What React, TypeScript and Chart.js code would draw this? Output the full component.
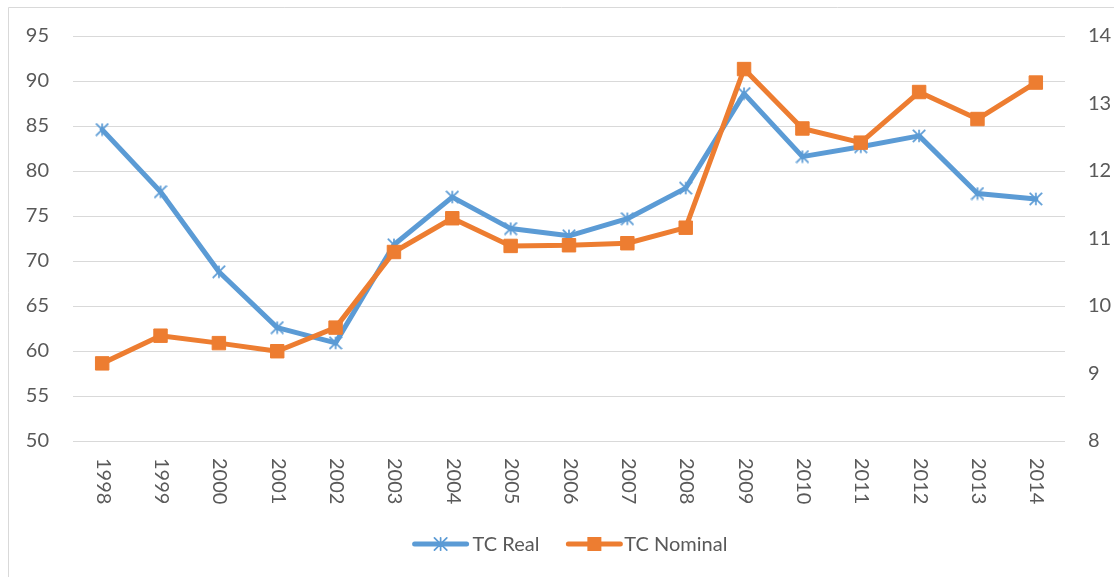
import React, { useEffect, useRef } from "react";
import { Chart, registerables } from "chart.js";

Chart.register(...registerables);

const years = ["1998", "1999", "2000", "2001", "2002", "2003", "2004", "2005", "2006", "2007", "2008", "2009", "2010", "2011", "2012", "2013", "2014"];
const tcReal = [84.6, 77.7, 68.8, 62.6, 60.9, 71.8, 77.1, 73.6, 72.8, 74.7, 78.1, 88.6, 81.6, 82.7, 83.9, 77.5, 76.9];
const tcNominal = [9.15, 9.56, 9.45, 9.33, 9.68, 10.8, 11.3, 10.89, 10.9, 10.93, 11.16, 13.51, 12.63, 12.42, 13.17, 12.77, 13.31];
const leftTicks = [50, 55, 60, 65, 70, 75, 80, 85, 90, 95];
const rightTicks = [8, 9, 10, 11, 12, 13, 14];
const seriesNames = ["TC Real", "TC Nominal"];

const BLUE = "#5B9BD5";
const ORANGE = "#ED7D31";
const TEXT = "#595959";
const GRID = "#D9D9D9";
const FONT = "Lato";
const FONT_SIZE = 20;

function makeStar(size: number, color: string): HTMLCanvasElement {
  const c = document.createElement("canvas");
  c.width = size;
  c.height = size;
  const ctx = c.getContext("2d")!;
  ctx.strokeStyle = color;
  ctx.lineWidth = 1.7;
  const m = size / 2;
  const r = size / 2 - 0.8;
  ctx.beginPath();
  ctx.moveTo(m, m - r);
  ctx.lineTo(m, m + r);
  ctx.moveTo(m - r, m - r);
  ctx.lineTo(m + r, m + r);
  ctx.moveTo(m + r, m - r);
  ctx.lineTo(m - r, m + r);
  ctx.stroke();
  return c;
}

function drawStar(ctx: CanvasRenderingContext2D, x: number, y: number, size: number, color: string) {
  const r = size / 2 - 0.8;
  ctx.save();
  ctx.strokeStyle = color;
  ctx.lineWidth = 1.7;
  ctx.beginPath();
  ctx.moveTo(x, y - r);
  ctx.lineTo(x, y + r);
  ctx.moveTo(x - r, y - r);
  ctx.lineTo(x + r, y + r);
  ctx.moveTo(x + r, y - r);
  ctx.lineTo(x - r, y + r);
  ctx.stroke();
  ctx.restore();
}

const customPlugin = {
  id: "customDecor",
  beforeDraw(chart: any) {
    const ctx = chart.ctx as CanvasRenderingContext2D;
    ctx.save();
    ctx.fillStyle = "#FFFFFF";
    ctx.fillRect(0, 0, chart.width, chart.height);
    ctx.strokeStyle = GRID;
    ctx.lineWidth = 1;
    ctx.beginPath();
    ctx.moveTo(0.5, chart.height);
    ctx.lineTo(0.5, 0.5);
    ctx.lineTo(chart.width, 0.5);
    ctx.stroke();
    ctx.restore();
  },
  afterDraw(chart: any) {
    const ctx = chart.ctx as CanvasRenderingContext2D;
    const xScale = chart.scales.x;
    const area = chart.chartArea;
    ctx.save();
    ctx.font = `${FONT_SIZE}px ${FONT}`;
    ctx.fillStyle = TEXT;
    years.forEach((lab, i) => {
      const px = xScale.getPixelForTick(i);
      ctx.save();
      ctx.translate(px + 1, area.bottom + 17);
      ctx.rotate(Math.PI / 2);
      ctx.textAlign = "left";
      ctx.textBaseline = "middle";
      ctx.fillText(lab, 0, 0);
      ctx.restore();
    });

    // legend
    const lineLen = 56;
    const w1 = ctx.measureText(seriesNames[0]).width;
    const w2 = ctx.measureText(seriesNames[1]).width;
    const gap = 27;
    const total = lineLen + 4 + w1 + gap + lineLen + 2 + w2;
    const cx = (area.left + area.right) / 2 + 1;
    let x = cx - total / 2;
    const y = 537;
    ctx.lineCap = "round";
    ctx.lineWidth = 5;
    ctx.strokeStyle = BLUE;
    ctx.beginPath();
    ctx.moveTo(x + 2, y);
    ctx.lineTo(x + lineLen - 2, y);
    ctx.stroke();
    drawStar(ctx, x + lineLen / 2, y, 14, BLUE);
    x += lineLen + 4;
    ctx.textAlign = "left";
    ctx.textBaseline = "middle";
    ctx.fillStyle = TEXT;
    ctx.fillText(seriesNames[0], x, y + 1);
    x += w1 + gap;
    ctx.strokeStyle = ORANGE;
    ctx.beginPath();
    ctx.moveTo(x + 2, y);
    ctx.lineTo(x + lineLen - 2, y);
    ctx.stroke();
    ctx.fillStyle = ORANGE;
    ctx.fillRect(x + lineLen / 2 - 7, y - 7, 14, 14);
    x += lineLen + 2;
    ctx.fillStyle = TEXT;
    ctx.fillText(seriesNames[1], x, y + 1);
    ctx.restore();
  },
};

export default function App() {
  const canvasRef = useRef<HTMLCanvasElement | null>(null);

  useEffect(() => {
    if (!canvasRef.current) return;
    const star = makeStar(14, BLUE);
    const chart = new Chart(canvasRef.current, {
      type: "line",
      data: {
        labels: years,
        datasets: [
          {
            label: seriesNames[0],
            data: tcReal,
            yAxisID: "y",
            borderColor: BLUE,
            backgroundColor: BLUE,
            borderWidth: 5,
            borderJoinStyle: "round",
            borderCapStyle: "round",
            pointStyle: star as any,
            pointRadius: 7,
            tension: 0,
            order: 1,
          },
          {
            label: seriesNames[1],
            data: tcNominal,
            yAxisID: "y1",
            borderColor: ORANGE,
            backgroundColor: ORANGE,
            borderWidth: 5,
            borderJoinStyle: "round",
            borderCapStyle: "round",
            pointStyle: "rect",
            pointRadius: 9.5,
            pointBorderWidth: 1,
            pointBackgroundColor: ORANGE,
            pointBorderColor: ORANGE,
            tension: 0,
            order: 0,
          },
        ],
      },
      options: {
        responsive: false,
        animation: false,
        events: [],
        layout: { padding: { top: 29, left: 0, right: 0, bottom: 0 } },
        plugins: {
          legend: { display: false },
          tooltip: { enabled: false },
        },
        scales: {
          x: {
            type: "category",
            offset: true,
            grid: { display: false },
            border: { display: false },
            ticks: { display: false },
            afterFit: (s: any) => {
              s.height = 136;
              s.paddingLeft = 0;
              s.paddingRight = 0;
            },
          },
          y: {
            position: "left",
            min: leftTicks[0],
            max: leftTicks[leftTicks.length - 1],
            afterBuildTicks: (s: any) => {
              s.ticks = leftTicks.map((v) => ({ value: v }));
            },
            grid: { color: GRID, lineWidth: 1, drawTicks: false },
            border: { display: false },
            ticks: { color: TEXT, font: { family: FONT, size: FONT_SIZE }, padding: 24 },
            afterFit: (s: any) => {
              s.width = 65;
              s.paddingTop = 0;
              s.paddingBottom = 0;
            },
          },
          y1: {
            position: "right",
            min: rightTicks[0],
            max: rightTicks[rightTicks.length - 1],
            afterBuildTicks: (s: any) => {
              s.ticks = rightTicks.map((v) => ({ value: v }));
            },
            grid: { display: false, drawTicks: false },
            border: { display: false },
            ticks: { color: TEXT, font: { family: FONT, size: FONT_SIZE }, padding: 23 },
            afterFit: (s: any) => {
              s.width = 49;
              s.paddingTop = 0;
              s.paddingBottom = 0;
            },
          },
        },
      },
      plugins: [customPlugin],
    });
    return () => chart.destroy();
  }, []);

  return (
    <div style={{ position: "fixed", left: 8, top: 7, width: 1106, height: 570 }}>
      <canvas ref={canvasRef} width={1106} height={570} style={{ width: 1106, height: 570, display: "block" }} />
    </div>
  );
}
